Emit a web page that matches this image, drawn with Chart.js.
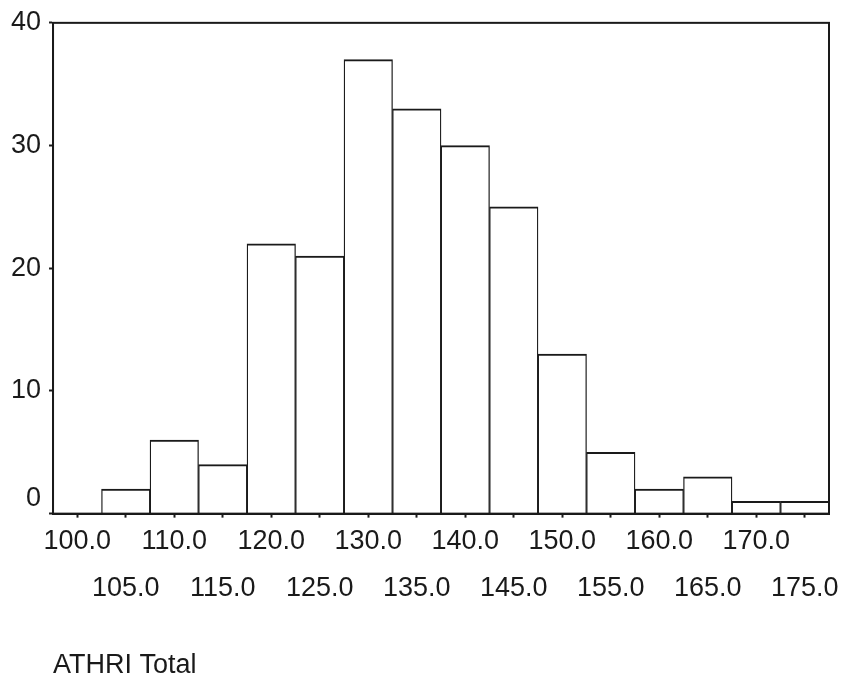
<!DOCTYPE html>
<html>
<head>
<meta charset="utf-8">
<title>ATHRI Total</title>
<script src="https://cdn.jsdelivr.net/npm/chart.js@4/dist/chart.umd.min.js"></script>
<style>
  html, body { margin: 0; padding: 0; background: #fff; }
  #histChart { display: block; }
</style>
</head>
<body>
<canvas id="histChart" width="843" height="682"></canvas>
<script>
// histogram bins (centre of each 5-point interval) and their frequencies
const binCenters = [100, 105, 110, 115, 120, 125, 130, 135, 140, 145, 150, 155, 160, 165, 170, 175];
const counts = [0, 2, 6, 4, 22, 21, 37, 33, 30, 25, 13, 5, 2, 3, 1, 1];
const yMin = 0;
const yMax = 40;
const yStep = 10;

const ink = '#1a1a1a';
const fontFamily = "'Liberation Sans', Arial, Helvetica, sans-serif";

// box around the plot area
const framePlugin = {
    id: 'frame',
    afterDatasetsDraw(chart) {
        const { ctx, chartArea: a } = chart;
        ctx.save();
        ctx.strokeStyle = ink;
        ctx.lineWidth = 2;
        ctx.strokeRect(a.left, a.top, a.right - a.left, a.bottom - a.top);
        ctx.restore();
    }
};

const ctx = document.getElementById('histChart').getContext('2d');
const histChart = new Chart(ctx, {
    type: 'bar',
    data: {
        labels: binCenters.map(v => v.toFixed(1)),
        datasets: [{
            data: counts,
            backgroundColor: '#ffffff',
            borderColor: ink,
            borderWidth: { top: 2, left: 1.3, right: 1.3, bottom: 0 },
            barPercentage: 1,
            categoryPercentage: 1
        }]
    },
    options: {
        responsive: false,
        animation: false,
        layout: { padding: { left: 3, right: 14, top: 16, bottom: 0 } },
        plugins: {
            legend: { display: false },
            tooltip: { enabled: false }
        },
        scales: {
            x: {
                grid: {
                    offset: false,
                    drawOnChartArea: false,
                    tickLength: 4,
                    tickWidth: 2,
                    color: ink
                },
                border: { display: true, color: ink, width: 2 },
                ticks: {
                    autoSkip: false,
                    maxRotation: 0,
                    minRotation: 0,
                    padding: 0,
                    color: ink,
                    font: { family: fontFamily, size: 27, lineHeight: 1.74 },
                    // alternate the labels between two rows
                    callback: function(value, index) {
                        const label = this.getLabelForValue(value);
                        return index % 2 === 0 ? [label, ''] : ['', label];
                    }
                },
                title: {
                    display: true,
                    text: 'ATHRI Total',
                    align: 'start',
                    color: ink,
                    font: { family: fontFamily, size: 27, lineHeight: 1.2 },
                    padding: { top: 38, bottom: 0 }
                }
            },
            y: {
                min: yMin,
                max: yMax,
                grid: {
                    drawOnChartArea: false,
                    tickLength: 4,
                    tickWidth: 2,
                    color: ink
                },
                border: { display: true, color: ink, width: 2 },
                ticks: {
                    stepSize: yStep,
                    padding: 8,
                    color: ink,
                    font: { family: fontFamily, size: 27, lineHeight: 1.1 },
                    // the zero label sits a little above its tick
                    callback: value => value === 0 ? ['0', ''] : String(value)
                }
            }
        }
    },
    plugins: [framePlugin]
});
</script>
</body>
</html>
